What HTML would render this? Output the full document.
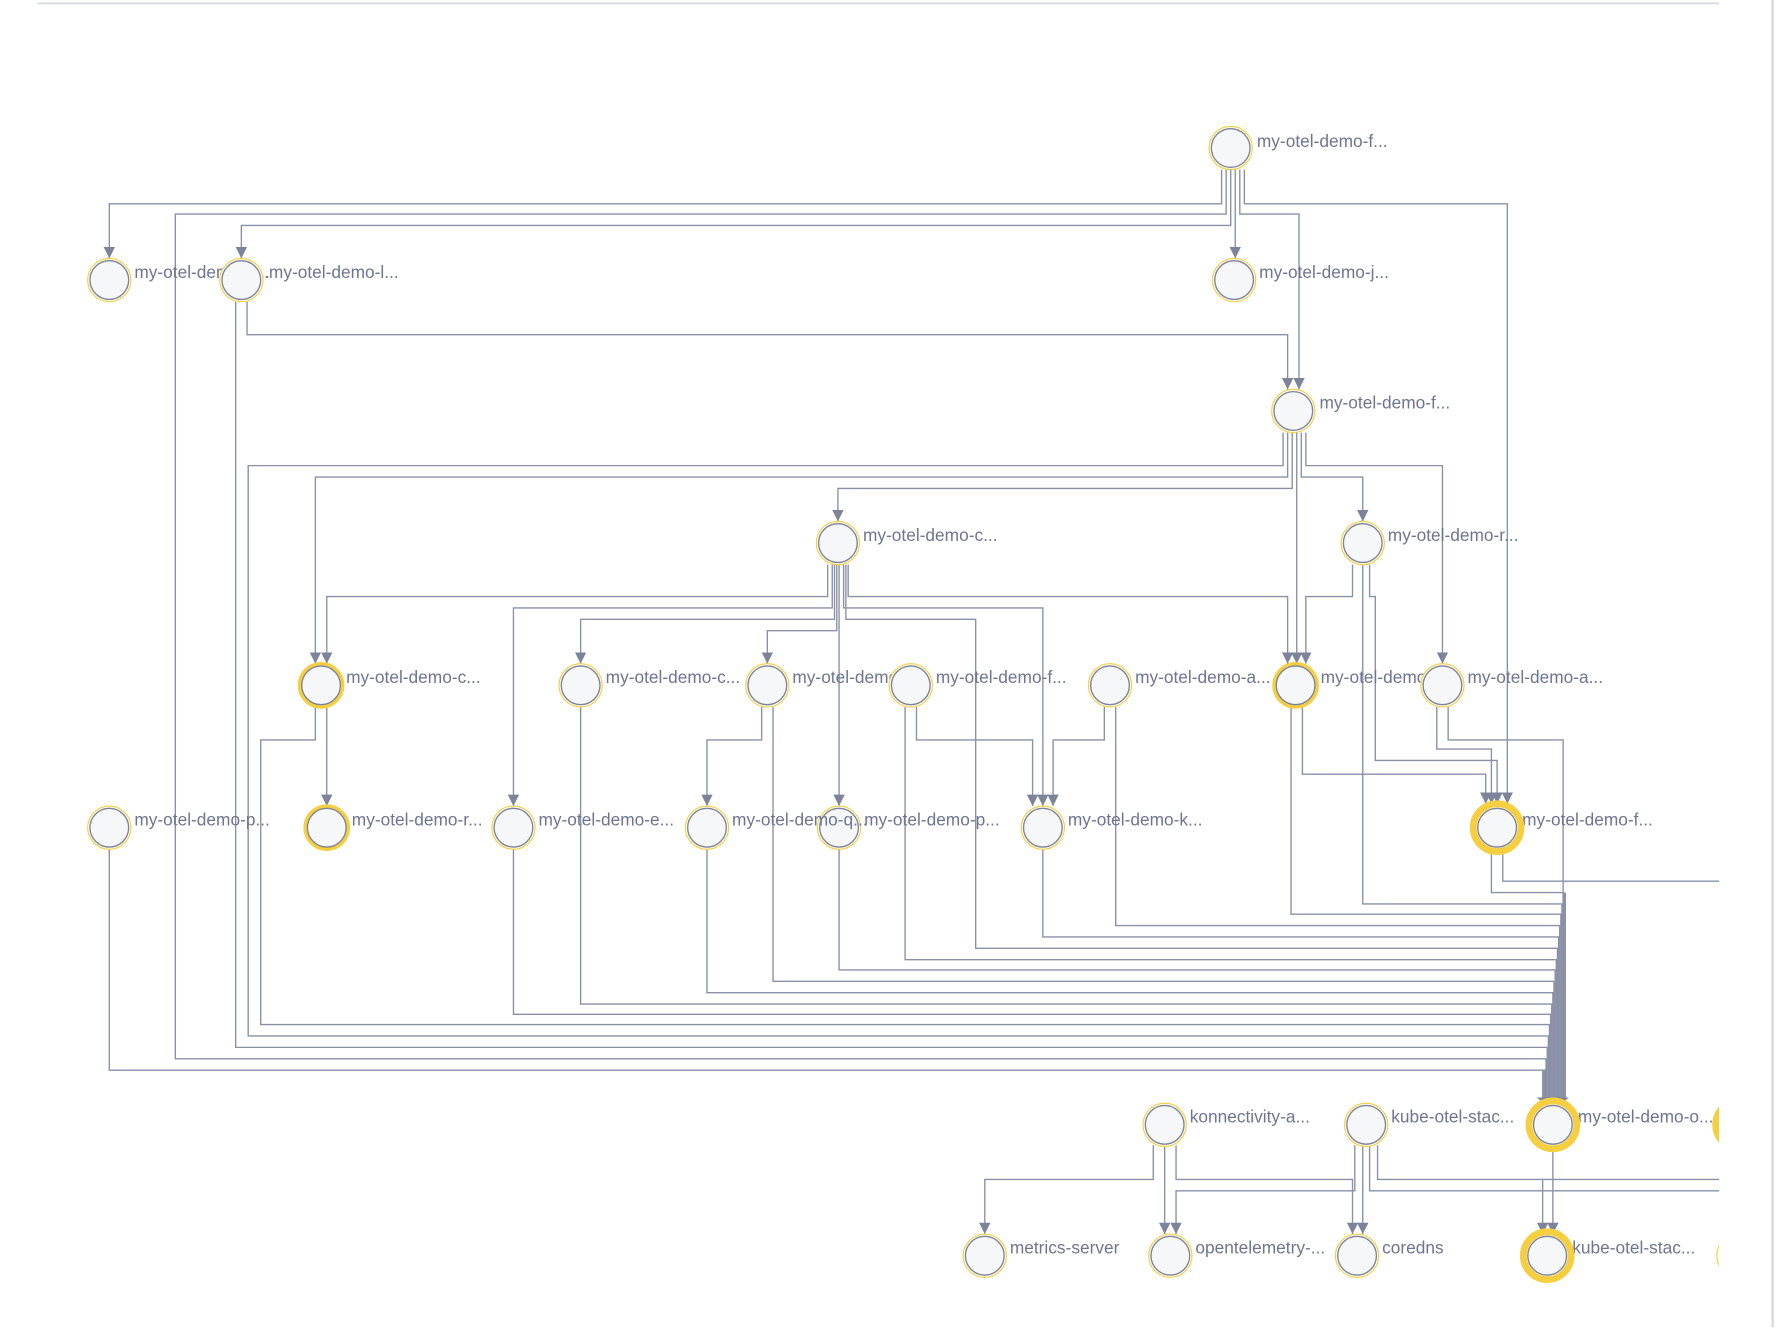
<!DOCTYPE html>
<html><head><meta charset="utf-8"><style>
html,body{margin:0;padding:0;background:#fff;width:1784px;height:1328px;overflow:hidden}
svg{display:block}
text{font-family:"Liberation Sans",sans-serif;font-size:15.2px;fill:#6e7591}
</style></head><body>
<svg width="1784" height="1328" viewBox="0 0 1567 1166.5" preserveAspectRatio="none" xmlns="http://www.w3.org/2000/svg">
<defs>
<marker id="a" viewBox="0 0 10 10" refX="5" refY="10" markerWidth="10" markerHeight="10" markerUnits="userSpaceOnUse" orient="0"><path d="M0,0 L10,0 L5,10z" fill="#7d8398"/></marker>
<clipPath id="c"><rect x="0" y="0" width="1510" height="1166"/></clipPath>
</defs>
<line x1="33" y1="3" x2="1510" y2="3" stroke="#d5d8de" stroke-width="1.5"/>
<line x1="1557" y1="0" x2="1557" y2="1166" stroke="#d5d8de" stroke-width="2"/>
<g fill="none" stroke="#8a90a6" stroke-width="1.2">
<path d="M1073,149V179H96V227" marker-end="url(#a)"/>
<path d="M1077,149V188H154V930H1358V968"/>
<path d="M1081,149V198H212V227" marker-end="url(#a)"/>
<path d="M1085,149V227" marker-end="url(#a)"/>
<path d="M1089,149V188H1141V342" marker-end="url(#a)"/>
<path d="M1093,149V179H1324V706" marker-end="url(#a)"/>
<path d="M217,265V294H1131V342" marker-end="url(#a)"/>
<path d="M207,265V920H1359V968"/>
<path d="M1127,380V409H218V910H1360V968"/>
<path d="M1131,380V419H277V583" marker-end="url(#a)"/>
<path d="M1135,380V429H736V458" marker-end="url(#a)"/>
<path d="M1139,380V583" marker-end="url(#a)"/>
<path d="M1143,380V419H1197V458" marker-end="url(#a)"/>
<path d="M1147,380V409H1267V583" marker-end="url(#a)"/>
<path d="M727,496V524H287V583" marker-end="url(#a)"/>
<path d="M731,496V534H451V708" marker-end="url(#a)"/>
<path d="M733,496V544H510V583" marker-end="url(#a)"/>
<path d="M735,496V554H674V583" marker-end="url(#a)"/>
<path d="M737,496V708" marker-end="url(#a)"/>
<path d="M741,496V534H916V708" marker-end="url(#a)"/>
<path d="M743,496V544H857V833H1368V968"/>
<path d="M745,496V524H1131V583" marker-end="url(#a)"/>
<path d="M1188,496V524H1147V583" marker-end="url(#a)"/>
<path d="M1197,496V794H1372V968"/>
<path d="M1203,496V524H1208V668H1315V706" marker-end="url(#a)"/>
<path d="M287,621V708" marker-end="url(#a)"/>
<path d="M277,621V650H229V900H1361V968"/>
<path d="M510,621V882H1363V968"/>
<path d="M669,621V650H621V708" marker-end="url(#a)"/>
<path d="M679,621V862H1365V968"/>
<path d="M795,621V843H1367V968"/>
<path d="M805,621V650H907V708" marker-end="url(#a)"/>
<path d="M970,621V650H925V708" marker-end="url(#a)"/>
<path d="M980,621V813H1370V968"/>
<path d="M1134,621V803H1371V968"/>
<path d="M1144,621V680H1305V706" marker-end="url(#a)"/>
<path d="M1262,621V658H1310V706" marker-end="url(#a)"/>
<path d="M1272,621V650H1373V968"/>
<path d="M96,746V940H1357V968"/>
<path d="M451,746V891H1362V968"/>
<path d="M621,746V872H1364V968"/>
<path d="M737,746V852H1366V968"/>
<path d="M916,746V823H1369V968"/>
<path d="M1310,746V784H1373V968"/>
<path d="M1320,746V774H1510"/>
</g>
<g fill="none" stroke="#8a90a6" stroke-width="3"><path d="M1356,940V964M1374,784V964"/></g>
<path d="M1350,964H1378L1364,976z" fill="#7d8398"/>
<g fill="none" stroke="#8a90a6" stroke-width="1.2">
<path d="M1013,1006V1036H865V1084" marker-end="url(#a)"/>
<path d="M1023,1006V1084" marker-end="url(#a)"/>
<path d="M1033,1006V1036H1188V1084" marker-end="url(#a)"/>
<path d="M1190,1006V1046H1033V1084" marker-end="url(#a)"/>
<path d="M1197,1006V1084" marker-end="url(#a)"/>
<path d="M1203,1006V1046H1510"/>
<path d="M1210,1006V1036H1510"/>
<path d="M1364,1006V1084" marker-end="url(#a)"/>
<path d="M1355,1036V1084" marker-end="url(#a)"/>
</g>
<g>
<text x="1104" y="129">my-otel-demo-f...</text>
<text x="118" y="244">my-otel-demo-d...</text>
<text x="232" y="244">.my-otel-demo-l...</text>
<text x="1106" y="244">my-otel-demo-j...</text>
<text x="1159" y="359">my-otel-demo-f...</text>
<text x="758" y="475">my-otel-demo-c...</text>
<text x="1219" y="475">my-otel-demo-r...</text>
<text x="304" y="600">my-otel-demo-c...</text>
<text x="532" y="600">my-otel-demo-c...</text>
<text x="696" y="600">my-otel-demo-a...</text>
<text x="822" y="600">my-otel-demo-f...</text>
<text x="997" y="600">my-otel-demo-a...</text>
<text x="1160" y="600">my-otel-demo-p...</text>
<text x="1289" y="600">my-otel-demo-a...</text>
<text x="118" y="725">my-otel-demo-p...</text>
<text x="309" y="725">my-otel-demo-r...</text>
<text x="473" y="725">my-otel-demo-e...</text>
<text x="759" y="725">my-otel-demo-p...</text>
<text x="938" y="725">my-otel-demo-k...</text>
<text x="1337" y="725">my-otel-demo-f...</text>
<text x="1045" y="986">konnectivity-a...</text>
<text x="1222" y="986">kube-otel-stac...</text>
<text x="1386" y="986">my-otel-demo-o...</text>
<text x="887" y="1101">metrics-server</text>
<text x="1050" y="1101">opentelemetry-...</text>
<text x="1214" y="1101">coredns</text>
<text x="1381" y="1101">kube-otel-stac...</text>
</g>
<g fill="#fff" clip-path="url(#c)">
<g stroke="#f5cf3f" stroke-width="1">
<circle cx="1081" cy="130" r="19"/><circle cx="96" cy="246" r="19"/><circle cx="212" cy="246" r="19"/><circle cx="1084" cy="246" r="19"/>
<circle cx="1136" cy="361" r="19"/><circle cx="736" cy="477" r="19"/><circle cx="1197" cy="477" r="19"/>
<circle cx="510" cy="602" r="19"/><circle cx="674" cy="602" r="19"/><circle cx="800" cy="602" r="19"/><circle cx="975" cy="602" r="19"/><circle cx="1267" cy="602" r="19"/>
<circle cx="96" cy="727" r="19"/><circle cx="451" cy="727" r="19"/><circle cx="621" cy="727" r="19"/><circle cx="737" cy="727" r="19"/><circle cx="916" cy="727" r="19"/>
<circle cx="1023" cy="988" r="19"/><circle cx="1200" cy="988" r="19"/>
<circle cx="865" cy="1103" r="19"/><circle cx="1028" cy="1103" r="19"/><circle cx="1192" cy="1103" r="19"/>
</g>
<g stroke="#f5cf3f" stroke-width="3"><circle cx="282" cy="602" r="19"/><circle cx="287" cy="727" r="19"/><circle cx="1138" cy="602" r="19"/></g>
<g stroke="#f5cf3f" stroke-width="6"><circle cx="1315" cy="727" r="21"/><circle cx="1364" cy="988" r="21"/><circle cx="1359" cy="1103" r="21"/><circle cx="1528" cy="988" r="21"/></g>
<g stroke="#f5cf3f" stroke-width="1"><circle cx="1527" cy="1103" r="19"/></g>
</g>
<g fill="#f6f7f9" stroke="#7d8398" stroke-width="1.2">
<circle cx="1081" cy="130" r="17"/><circle cx="96" cy="246" r="17"/><circle cx="212" cy="246" r="17"/><circle cx="1084" cy="246" r="17"/>
<circle cx="1136" cy="361" r="17"/><circle cx="736" cy="477" r="17"/><circle cx="1197" cy="477" r="17"/>
<circle cx="282" cy="602" r="17"/><circle cx="510" cy="602" r="17"/><circle cx="674" cy="602" r="17"/><circle cx="800" cy="602" r="17"/><circle cx="975" cy="602" r="17"/><circle cx="1138" cy="602" r="17"/><circle cx="1267" cy="602" r="17"/>
<circle cx="96" cy="727" r="17"/><circle cx="287" cy="727" r="17"/><circle cx="451" cy="727" r="17"/><circle cx="621" cy="727" r="17"/><circle cx="737" cy="727" r="17"/><circle cx="916" cy="727" r="17"/><circle cx="1315" cy="727" r="17"/>
<circle cx="1023" cy="988" r="17"/><circle cx="1200" cy="988" r="17"/><circle cx="1364" cy="988" r="17"/>
<circle cx="865" cy="1103" r="17"/><circle cx="1028" cy="1103" r="17"/><circle cx="1192" cy="1103" r="17"/><circle cx="1359" cy="1103" r="17"/>
</g>
<text x="643" y="725">my-otel-demo-q...</text>
</svg>
</body></html>
